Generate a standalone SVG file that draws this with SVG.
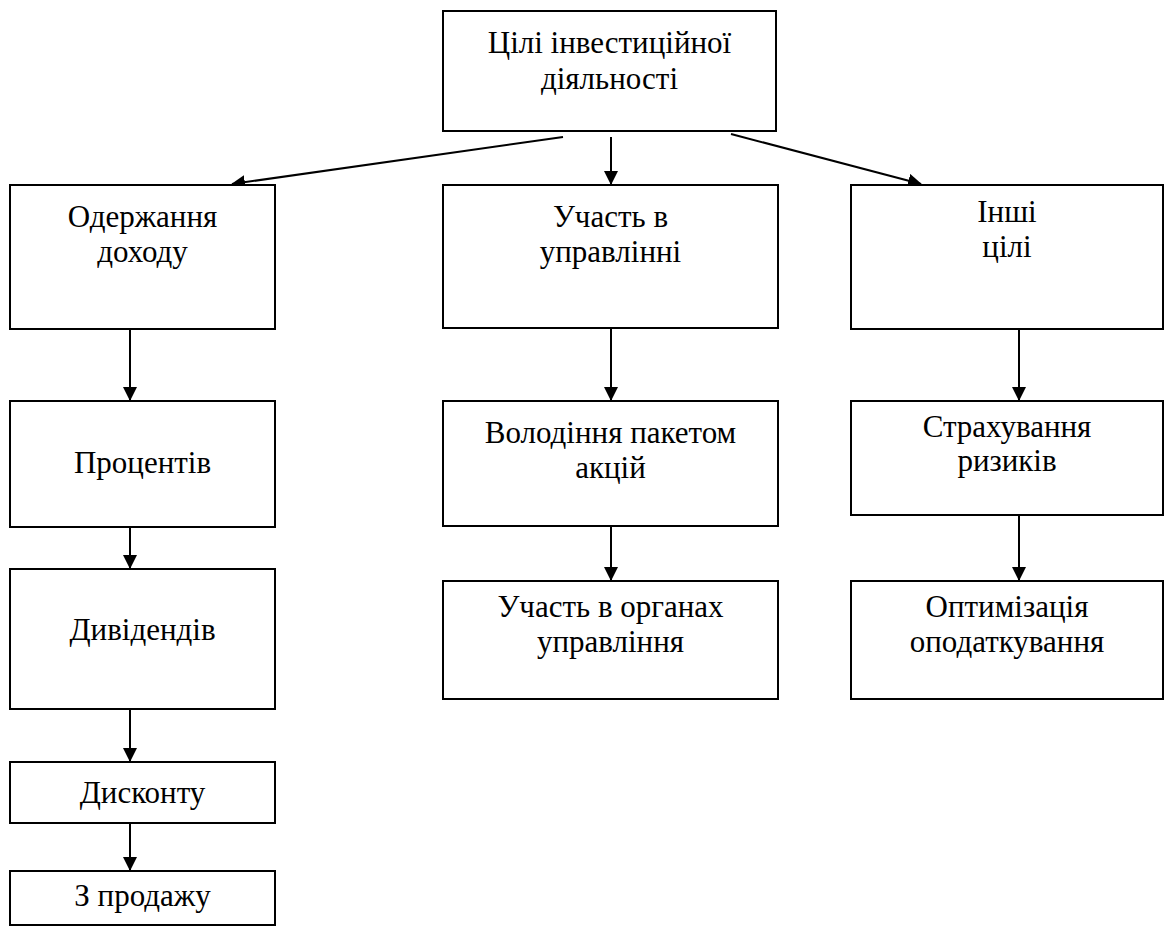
<svg xmlns="http://www.w3.org/2000/svg" width="1164" height="928" viewBox="0 0 1164 928">
<defs>
<style>
.box{fill:#fff;stroke:#000;stroke-width:2}
.t{font-family:'Liberation Serif','Times New Roman',Times,Tinos,'DejaVu Serif','Noto Serif',FreeSerif,'Nimbus Roman','Nimbus Roman No9 L',serif;font-size:31px;fill:#000;text-anchor:middle}
.c{stroke:#000;stroke-width:2;fill:none;marker-end:url(#ah)}
</style>
<marker id="ah" markerWidth="14" markerHeight="14" refX="13" refY="7" orient="auto" markerUnits="userSpaceOnUse">
<path d="M0,0 L14,7 L0,14 Z" fill="#000"/>
</marker>
</defs>
<rect width="1164" height="928" fill="#fff"/>
<g id="connectors">
<line class="c" x1="563" y1="137" x2="232" y2="184"/>
<line class="c" x1="611" y1="137" x2="611" y2="184"/>
<line class="c" x1="731" y1="134" x2="921" y2="184"/>
<line class="c" x1="130" y1="329" x2="130" y2="400"/>
<line class="c" x1="130" y1="527" x2="130" y2="568"/>
<line class="c" x1="130" y1="709" x2="130" y2="761"/>
<line class="c" x1="130" y1="823" x2="130" y2="870"/>
<line class="c" x1="611" y1="328" x2="611" y2="400"/>
<line class="c" x1="611" y1="526" x2="611" y2="580"/>
<line class="c" x1="1019" y1="329" x2="1019" y2="400"/>
<line class="c" x1="1019" y1="515" x2="1019" y2="580"/>
</g>
<g id="n-top"><rect class="box" x="443" y="11" width="333" height="120"/><text class="t" x="609.5" y="53">Цілі інвестиційної</text><text class="t" x="609.5" y="89">діяльності</text></g>
<g id="n-income"><rect class="box" x="10" y="185" width="265" height="144"/><text class="t" x="142.5" y="227">Одержання</text><text class="t" x="142.5" y="262">доходу</text></g>
<g id="n-mgmt"><rect class="box" x="443" y="185" width="335" height="143"/><text class="t" x="610.5" y="227">Участь в</text><text class="t" x="610.5" y="262">управлінні</text></g>
<g id="n-other"><rect class="box" x="851" y="185" width="312" height="144"/><text class="t" x="1007" y="222">Інші</text><text class="t" x="1007" y="257">цілі</text></g>
<g id="n-interest"><rect class="box" x="10" y="401" width="265" height="126"/><text class="t" x="142.5" y="473">Процентів</text></g>
<g id="n-dividends"><rect class="box" x="10" y="569" width="265" height="140"/><text class="t" x="142.5" y="640">Дивідендів</text></g>
<g id="n-discount"><rect class="box" x="10" y="762" width="265" height="61"/><text class="t" x="142.5" y="803">Дисконту</text></g>
<g id="n-sale"><rect class="box" x="10" y="871" width="265" height="54"/><text class="t" x="142.5" y="906">З продажу</text></g>
<g id="n-stake"><rect class="box" x="443" y="401" width="335" height="125"/><text class="t" x="610.5" y="443">Володіння пакетом</text><text class="t" x="610.5" y="478">акцій</text></g>
<g id="n-bodies"><rect class="box" x="443" y="581" width="335" height="118"/><text class="t" x="610.5" y="617">Участь в органах</text><text class="t" x="610.5" y="652">управління</text></g>
<g id="n-risk"><rect class="box" x="851" y="401" width="312" height="114"/><text class="t" x="1007" y="437">Страхування</text><text class="t" x="1007" y="471">ризиків</text></g>
<g id="n-tax"><rect class="box" x="851" y="581" width="312" height="118"/><text class="t" x="1007" y="617">Оптимізація</text><text class="t" x="1007" y="652">оподаткування</text></g>
</svg>
